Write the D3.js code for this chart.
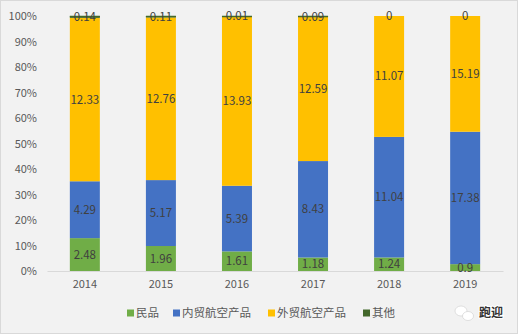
<!DOCTYPE html>
<html><head><meta charset="utf-8">
<script src="https://cdn.jsdelivr.net/npm/d3@7"></script>
<style>body{margin:0;background:#fff}svg{display:block}text{font-family:"Noto Sans CJK SC","Liberation Sans",sans-serif}</style>
</head><body>
<svg id="c" width="518" height="334"></svg>
<script>
const years = ["2014","2015","2016","2017","2018","2019"];
const seriesNames = ["民品","内贸航空产品","外贸航空产品","其他"];
const minpin = [2.48,1.96,1.61,1.18,1.24,0.9];
const neimao = [4.29,5.17,5.39,8.43,11.04,17.38];
const waimao = [12.33,12.76,13.93,12.59,11.07,15.19];
const qita = [0.14,0.11,0.01,0.09,0,0];
const yTicks = [0,0.1,0.2,0.3,0.4,0.5,0.6,0.7,0.8,0.9,1];
const colors = ["#70AD47","#4472C4","#FFC000","#43682B"];

const svg = d3.select("#c");
svg.append("rect").attr("x",0.5).attr("y",0.5).attr("width",517).attr("height",333)
  .attr("fill","#F2F2F2").attr("stroke","#D9D9D9");

const x = d3.scaleBand().domain(years).range([47,503]).paddingInner(76/76*0.605).paddingOuter(0.3);
// bar width 30 of step 76
const y = d3.scaleLinear().domain([0,1]).range([271,16]);

const rows = years.map((yr,i)=>({year:yr, "民品":minpin[i],"内贸航空产品":neimao[i],"外贸航空产品":waimao[i],"其他":qita[i]}));
const stack = d3.stack().keys(seriesNames).offset(d3.stackOffsetExpand)(rows);

// y axis labels
const yAxis = d3.axisLeft(y).tickValues(yTicks).tickFormat(d3.format(".0%")).tickSize(0).tickPadding(0);
const ya = svg.append("g").attr("transform","translate(37,0)").call(yAxis);
ya.select(".domain").remove();
ya.selectAll("text").attr("font-size",11).attr("fill","#595959").attr("font-family","Liberation Sans, sans-serif");

// x axis
const xAxis = d3.axisBottom(x).tickSize(0).tickPadding(9);
const xa = svg.append("g").attr("transform","translate(0,271)").call(xAxis);
xa.select(".domain").attr("stroke","#D9D9D9");
xa.selectAll("text").attr("font-size",11).attr("fill","#595959").attr("font-family","Liberation Sans, sans-serif");

const bw = 30;
const layers = svg.append("g").selectAll("g").data(stack).join("g").attr("fill",(d,i)=>colors[i]);
layers.selectAll("rect").data(d=>d).join("rect")
  .attr("x",d=>x(d.data.year)+x.bandwidth()/2-bw/2)
  .attr("width",bw)
  .attr("y",d=>y(d[1]))
  .attr("height",d=>Math.max(y(d[0])-y(d[1]), 0));

// "其他" segment is very thin: draw top line
svg.append("g").selectAll("line").data(stack[3]).join("line")
  .attr("x1",d=>x(d.data.year)+x.bandwidth()/2-bw/2)
  .attr("x2",d=>x(d.data.year)+x.bandwidth()/2+bw/2)
  .attr("y1",d=>y(d[1])+0.5).attr("y2",d=>y(d[1])+0.5)
  .attr("stroke",(d,i)=>qita[i]>0?colors[3]:"none").attr("stroke-width",1.5);

// labels
const lab = svg.append("g");
stack.forEach((layer,si)=>{
  lab.selectAll(null).data(layer).join("text")
    .attr("x",d=>x(d.data.year)+x.bandwidth()/2)
    .attr("y",d=>y((d[0]+d[1])/2))
    .attr("dy","0.35em")
    .attr("text-anchor","middle")
    .attr("font-size",11.5)
    .attr("fill","#404040")
    .attr("font-family","Liberation Sans, sans-serif")
    .text(d=>d.data[layer.key]);
});

// legend
const legX = [127,173,268,363];
const lg = svg.append("g").selectAll("g").data(seriesNames).join("g")
  .attr("transform",(d,i)=>`translate(${legX[i]},313)`);
lg.append("rect").attr("x",0).attr("y",-3.5).attr("width",7).attr("height",7).attr("fill",(d,i)=>colors[i]);
lg.append("text").attr("x",9).attr("dy","0.35em").attr("font-size",11.5).attr("fill","#595959").text(d=>d);

// watermark
const wm = svg.append("g").attr("transform","translate(455,313)");
wm.append("ellipse").attr("cx",6).attr("cy",-2).attr("rx",6).attr("ry",5).attr("fill","#fff").attr("stroke","#ccc").attr("stroke-width",0.6);
wm.append("ellipse").attr("cx",13).attr("cy",3).attr("rx",5.5).attr("ry",4.5).attr("fill","#fff").attr("stroke","#ccc").attr("stroke-width",0.6);
wm.append("text").attr("x",24).attr("dy","0.35em").attr("font-size",12).attr("font-weight","bold")
  .attr("fill","#333").attr("stroke","#fff").attr("stroke-width",2).attr("paint-order","stroke").text("跑迎");
</script>
</body></html>
